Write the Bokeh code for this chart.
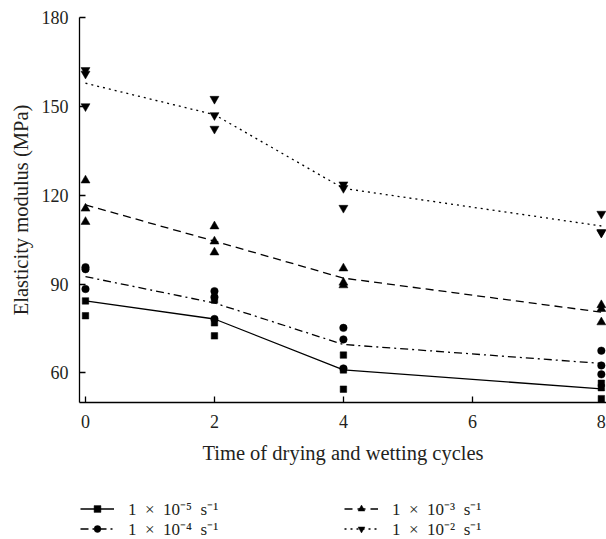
from bokeh.plotting import figure
from bokeh.models import Legend, LegendItem, FixedTicker, Range1d
from bokeh.layouts import column
from bokeh.embed import file_html
from bokeh.resources import INLINE

# ---- data ----
cycles = [0, 2, 4, 8]
x_ticks = [0, 2, 4, 6, 8]
y_ticks = [60, 90, 120, 150, 180]

# mean curves
mean_1e5 = [84.3, 78.2, 61.0, 54.6]
mean_1e4 = [92.5, 83.6, 69.6, 63.2]
mean_1e3 = [116.7, 104.5, 92.0, 80.5]
mean_1e2 = [157.8, 147.2, 122.3, 109.6]

# individual measurements
pts_1e5_x = [0, 0, 2, 2, 2, 4, 4, 4, 8, 8, 8]
pts_1e5_y = [84.3, 79.3, 84.6, 76.9, 72.5, 66.0, 61.0, 54.5, 56.5, 55.0, 51.3]

pts_1e4_x = [0, 0, 0, 2, 2, 2, 4, 4, 4, 8, 8, 8]
pts_1e4_y = [95.7, 95.0, 88.3, 87.6, 85.6, 78.2, 75.2, 71.3, 61.5, 67.5, 62.5, 59.5]

pts_1e3_x = [0, 0, 0, 2, 2, 2, 4, 4, 4, 8, 8, 8]
pts_1e3_y = [125.0, 115.5, 111.0, 109.5, 104.4, 100.7, 95.3, 90.5, 89.6, 82.9, 81.6, 77.1]

pts_1e2_x = [0, 0, 0, 2, 2, 2, 4, 4, 4, 8, 8, 8]
pts_1e2_y = [162.2, 161.0, 150.0, 152.5, 147.0, 142.4, 123.6, 122.4, 115.7, 113.7, 107.5, 107.3]

SP = "\u2002"
labels = [f"1{SP}×{SP}10⁻⁵{SP}s⁻¹", f"1{SP}×{SP}10⁻⁴{SP}s⁻¹",
          f"1{SP}×{SP}10⁻³{SP}s⁻¹", f"1{SP}×{SP}10⁻²{SP}s⁻¹"]

FONT = "Liberation Serif"
INK = "#231f20"
W = 606
H_MAIN = 466
H_LEG = 73
NAN = float("nan")

p = figure(width=W, height=H_MAIN, output_backend="svg", toolbar_location=None,
           x_range=Range1d(-0.093, 8.08), y_range=Range1d(50, 180),
           min_border_left=79, min_border_right=0, min_border_top=17,
           min_border_bottom=H_MAIN - 404)
p.outline_line_color = None
p.grid.visible = False
p.background_fill_color = "white"
p.border_fill_color = "white"

for ax in (p.xaxis[0], p.yaxis[0]):
    ax.axis_line_color = "black"
    ax.axis_line_width = 1.3
    ax.major_tick_line_color = "black"
    ax.major_tick_line_width = 1.3
    ax.major_tick_in = 6
    ax.major_tick_out = 0
    ax.minor_tick_line_color = None
    ax.major_label_text_font = FONT
    ax.major_label_text_font_size = "18px"
    ax.major_label_text_color = INK
    ax.axis_label_text_font = FONT
    ax.axis_label_text_font_size = "20.5px"
    ax.axis_label_text_font_style = "normal"
    ax.axis_label_text_color = INK

p.xaxis[0].ticker = FixedTicker(ticks=x_ticks)
p.yaxis[0].ticker = FixedTicker(ticks=y_ticks)
p.xaxis[0].axis_label = "Time of drying and wetting cycles"
p.yaxis[0].axis_label = "Elasticity modulus (MPa)"
p.xaxis[0].major_label_standoff = 12
p.yaxis[0].major_label_standoff = 11
p.xaxis[0].axis_label_standoff = 11
p.yaxis[0].axis_label_standoff = 7

series = [
    (mean_1e5, pts_1e5_x, pts_1e5_y, "solid", "square", 6.5),
    (mean_1e4, pts_1e4_x, pts_1e4_y, "8 4 2 4", "circle", 7.5),
    (mean_1e3, pts_1e3_x, pts_1e3_y, "8 5", "triangle", 9),
    (mean_1e2, pts_1e2_x, pts_1e2_y, "2 4", "inverted_triangle", 9),
]

# legend strip below the chart
q = figure(width=W, height=H_LEG, output_backend="svg", toolbar_location=None,
           x_range=Range1d(0, 1), y_range=Range1d(0, 1),
           x_axis_location=None, y_axis_location=None,
           min_border_left=0, min_border_right=0, min_border_top=0,
           min_border_bottom=0)
q.outline_line_color = None
q.grid.visible = False

items = []
for (mean, px, py, dash, marker, size), lab in zip(series, labels):
    p.line(cycles, mean, line_color="black", line_width=1.3, line_dash=dash)
    p.scatter(px, py, marker=marker, size=size, fill_color="black",
              line_color="black", line_width=0.5)
    kl = q.line([NAN, NAN], [NAN, NAN], line_color="black", line_width=1.3,
                line_dash=dash)
    ks = q.scatter([NAN], [NAN], marker=marker, size=size - 1.5,
                   fill_color="black", line_color="black", line_width=0.5)
    items.append(LegendItem(label=lab, renderers=[kl, ks]))


def make_legend(item, loc):
    return Legend(items=[item], location=loc, orientation="vertical",
                  glyph_width=34, glyph_height=17, label_height=17,
                  label_standoff=14, spacing=0, padding=0, margin=0,
                  border_line_alpha=0, background_fill_alpha=0,
                  label_text_font=FONT, label_text_font_size="17px",
                  label_text_color=INK)


# the legend strip's frame is aligned with the chart's frame (left edge at 79 px)
legend_pos = [(1, 19), (1, -1), (265, 19), (265, -1)]
for it, loc in zip(items, legend_pos):
    q.add_layout(make_legend(it, loc), "center")

layout = column(p, q, spacing=0)
open("out.html", "w").write(file_html(layout, INLINE))
